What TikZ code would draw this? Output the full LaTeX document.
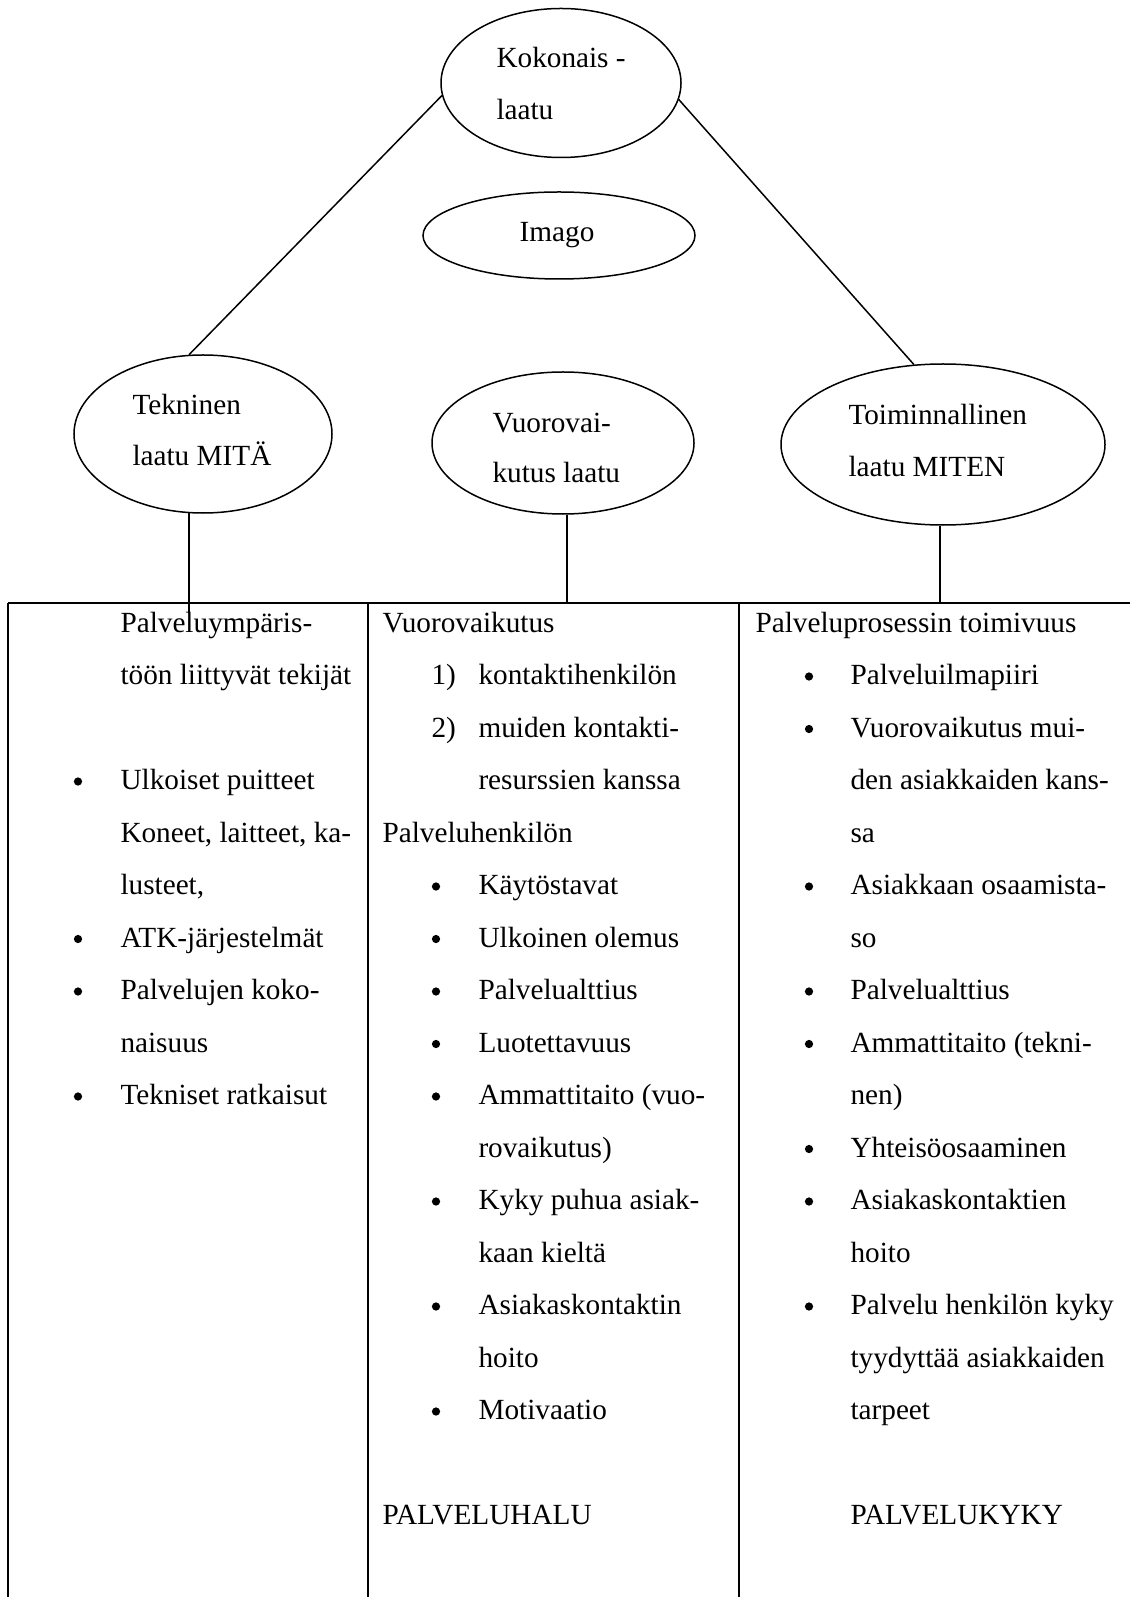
\documentclass[tikz,border=0pt]{standalone}
\usepackage{fontspec}
\setmainfont{Liberation Serif}
\usepackage{tikz}
\usetikzlibrary{shapes.geometric, positioning, calc}

\begin{document}
\begin{tikzpicture}[x=0.4pt, y=-0.4pt, font=\fontsize{11.7pt}{14pt}\selectfont,
        oval/.style={ellipse, draw=black, line width=0.6pt, inner sep=0pt},
        txt/.style={anchor=base west, inner sep=0pt},
        bul/.style={circle, fill=black, inner sep=0pt, minimum size=3.3pt},
        rule/.style={draw=black, line width=0.6pt}]
        \useasboundingbox (0,0) rectangle (1130,1597);

        % Quality ellipses
        \node[oval, minimum width=96pt, minimum height=59.6pt] (kok) at (561, 83) {};
        \node[oval, minimum width=108.8pt, minimum height=34.8pt] (ima) at (559, 235.5) {};
        \node[oval, minimum width=103.2pt, minimum height=63.2pt] (tek) at (203, 434) {};
        \node[oval, minimum width=104.8pt, minimum height=56.8pt] (vuo) at (563, 443) {};
        \node[oval, minimum width=129.6pt, minimum height=64.4pt] (toi) at (943, 444.5) {};

        % Labels inside the ellipses
        \node[txt] (kokA) at (496, 68) {Kokonais -};
        \node[txt] (kokB) at (496, 120) {laatu};
        \node[anchor=base, inner sep=0pt] (imaA) at (557, 242) {Imago};
        \node[txt] (tekA) at (132, 415) {Tekninen};
        \node[txt] (tekB) at (132, 466) {laatu MITÄ};
        \node[txt] (vuoA) at (492, 433) {Vuorovai-};
        \node[txt] (vuoB) at (492, 483) {kutus laatu};
        \node[txt] (toiA) at (848, 425) {Toiminnallinen};
        \node[txt] (toiB) at (848, 477) {laatu MITEN};

        % Table frame
        \coordinate (top) at (8, 603);
        \coordinate (tekfoot) at (189, 613);
        \draw[line width=1pt] (top) -- (1130, 603);
        \draw[rule] (8, 603) -- (8, 1597);
        \draw[rule] (368, 603) -- (368, 1597);
        \draw[rule] (739, 603) -- (739, 1597);

        % Connectors
        \draw[rule] (kok.186) -- (tek.100);
        \draw[rule] (kok.-8) -- (toi.110);
        \draw[rule] (tek.260) -- (tek.260 |- tekfoot);
        \draw[rule] (vuo.273) -- (vuo.273 |- top);
        \draw[rule] (toi.268) -- (toi.268 |- top);

        % Column 1
        \foreach \row/\txt in {0/Palveluympäris-, 1/töön liittyvät tekijät, 3/Ulkoiset puitteet,
                {4/Koneet, laitteet, ka-}, {5/lusteet,}, 6/ATK-järjestelmät, 7/Palvelujen koko-,
                8/naisuus, 9/Tekniset ratkaisut}
            \node[txt] (a\row) at (120, {632+52.5*\row}) {\txt};
        \foreach \row in {3,6,7,9}
            \node[bul] (ab\row) at (78, {624+52.5*\row}) {};

        % Column 2
        \foreach \row/\txt in {0/Vuorovaikutus, 4/Palveluhenkilön, 17/PALVELUHALU}
            \node[txt] (bh\row) at (382, {632+52.5*\row}) {\txt};
        \node[txt] (bn1) at (431, 684.5) {1)};
        \node[txt] (bn2) at (431, 737) {2)};
        \foreach \row/\txt in {1/kontaktihenkilön, 2/muiden kontakti-, 3/resurssien kanssa,
                5/Käytöstavat, 6/Ulkoinen olemus, 7/Palvelualttius, 8/Luotettavuus,
                9/Ammattitaito (vuo-, 10/rovaikutus), 11/Kyky puhua asiak-, 12/kaan kieltä,
                13/Asiakaskontaktin, 14/hoito, 15/Motivaatio}
            \node[txt] (b\row) at (478, {632+52.5*\row}) {\txt};
        \foreach \row in {5,6,7,8,9,11,13,15}
            \node[bul] (bb\row) at (436, {624+52.5*\row}) {};

        % Column 3
        \node[txt] (ch0) at (755, 632) {Palveluprosessin toimivuus};
        \foreach \row/\txt in {1/Palveluilmapiiri, 2/Vuorovaikutus mui-, 3/den asiakkaiden kans-,
                4/sa, 5/Asiakkaan osaamista-, 6/so, 7/Palvelualttius, 8/Ammattitaito (tekni-,
                9/nen), 10/Yhteisöosaaminen, 11/Asiakaskontaktien, 12/hoito,
                13/Palvelu henkilön kyky, 14/tyydyttää asiakkaiden, 15/tarpeet, 17/PALVELUKYKY}
            \node[txt] (c\row) at (850, {632+52.5*\row}) {\txt};
        \foreach \row in {1,2,5,7,8,10,11,13}
            \node[bul] (cb\row) at (809, {624+52.5*\row}) {};
\end{tikzpicture}
\end{document}
